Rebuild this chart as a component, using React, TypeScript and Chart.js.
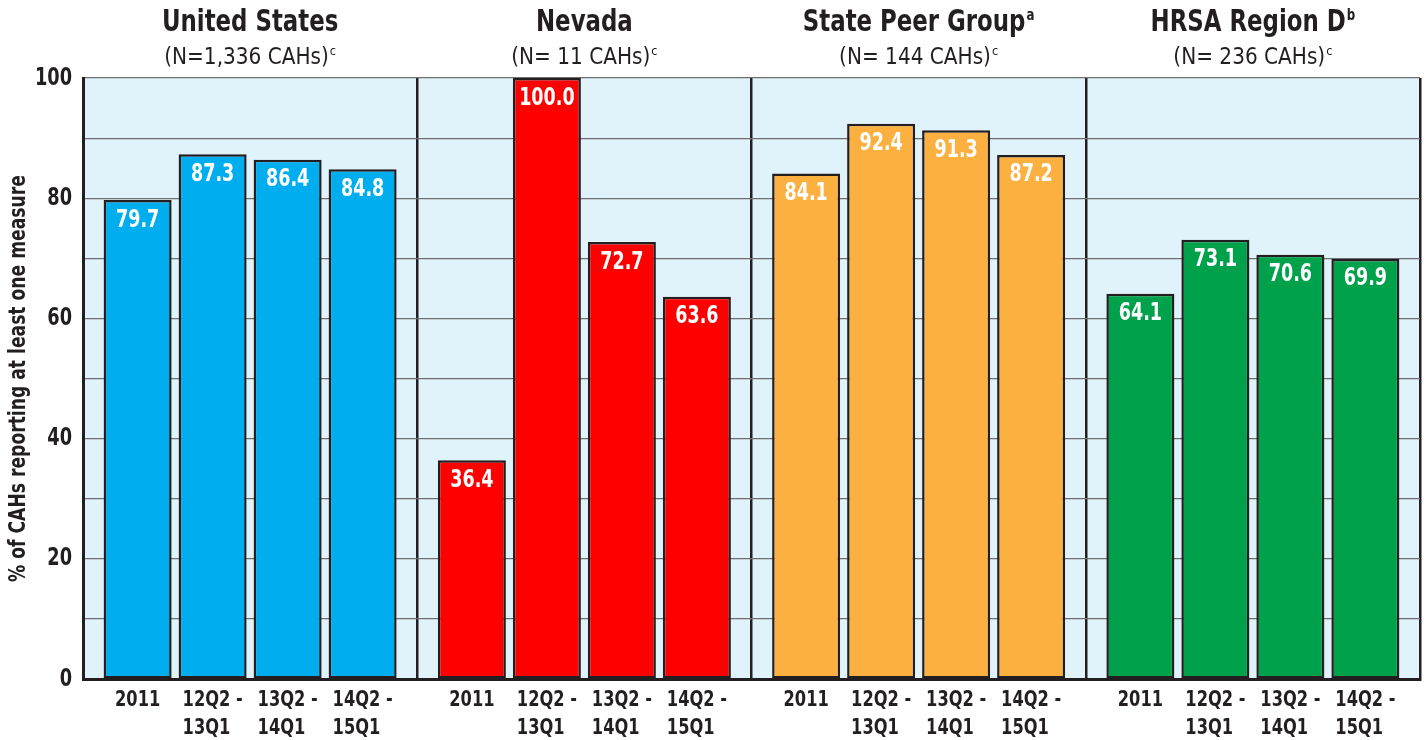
import React, { useEffect, useRef } from 'react';
import { Chart, registerables } from 'chart.js';

Chart.register(...registerables);

const groupTitles = ['United States', 'Nevada', 'State Peer Group', 'HRSA Region D'];
const groupTitleSup = ['', '', 'a', 'b'];
const groupSubtitles = ['(N=1,336 CAHs)', '(N= 11 CAHs)', '(N= 144 CAHs)', '(N= 236 CAHs)'];
const subtitleSup = 'c';
const periodLabels = [['2011'], ['12Q2 -', '13Q1'], ['13Q2 -', '14Q1'], ['14Q2 -', '15Q1']];
const usValues = [79.7, 87.3, 86.4, 84.8];
const nevadaValues = [36.4, 100.0, 72.7, 63.6];
const peerValues = [84.1, 92.4, 91.3, 87.2];
const regionDValues = [64.1, 73.1, 70.6, 69.9];
const groupColors = ['#00aeef', '#ff0000', '#fbb040', '#00a14b'];
const yTicks = [0, 20, 40, 60, 80, 100];
const yTitle = '% of CAHs reporting at least one measure';

const FONT = '"DejaVu Sans Condensed", "Liberation Sans Narrow", sans-serif';
const INK = '#231f20';

const groupValues = [usValues, nevadaValues, peerValues, regionDValues];

function textW(ctx: CanvasRenderingContext2D, text: string, font: string, sx: number) {
  ctx.font = font;
  return ctx.measureText(text).width * sx;
}

function drawText(
  ctx: CanvasRenderingContext2D,
  text: string,
  x: number,
  y: number,
  font: string,
  sx: number,
  align: CanvasTextAlign,
  color: string,
  rotate = 0
) {
  ctx.save();
  ctx.font = font;
  ctx.fillStyle = color;
  ctx.textAlign = align;
  ctx.textBaseline = 'middle';
  ctx.translate(x, y);
  if (rotate) ctx.rotate(rotate);
  ctx.scale(sx, 1);
  ctx.fillText(text, 0, 0);
  ctx.restore();
}

const labelsPlugin = {
  id: 'customLabels',
  beforeDraw(chart: any) {
    const { ctx, chartArea } = chart;
    ctx.save();
    ctx.fillStyle = '#e1f3fa';
    ctx.fillRect(chartArea.left, chartArea.top, chartArea.right - chartArea.left, chartArea.bottom - chartArea.top);
    ctx.restore();
  },
  afterDraw(chart: any) {
    const { ctx, chartArea } = chart;
    const xScale = chart.scales.x;
    const yScale = chart.scales.y;

    // y tick labels
    const tickFont = `bold 25px ${FONT}`;
    yTicks.forEach((v) => {
      drawText(ctx, String(v), chartArea.left - 11, yScale.getPixelForValue(v), tickFont, 0.79, 'right', INK);
    });

    // y title
    drawText(ctx, yTitle, 19, (chartArea.top + chartArea.bottom) / 2, `bold 23px ${FONT}`, 0.83, 'center', INK, -Math.PI / 2);

    // value labels and period labels
    chart.data.datasets.forEach((ds: any, di: number) => {
      const meta = chart.getDatasetMeta(di);
      meta.data.forEach((bar: any, gi: number) => {
        const v = ds.data[gi];
        drawText(ctx, v.toFixed(1), bar.x, bar.y + 20, `bold 25px ${FONT}`, 0.78, 'center', '#ffffff');
        const lines = periodLabels[di];
        const pf = `bold 22px ${FONT}`;
        const maxW = Math.max(...lines.map((l) => textW(ctx, l, pf, 0.82)));
        const left = bar.x - maxW / 2;
        lines.forEach((l, li) => {
          drawText(ctx, l, left, chartArea.bottom + 21 + li * 28, pf, 0.82, 'left', INK);
        });
      });
    });

    // group titles
    groupTitles.forEach((t, gi) => {
      const cx = xScale.getPixelForValue(gi);
      const tf = `bold 31px ${FONT}`;
      const sf = `bold 16px ${FONT}`;
      const tw = textW(ctx, t, tf, 0.82);
      const sw = groupTitleSup[gi] ? textW(ctx, groupTitleSup[gi], sf, 0.82) + 1 : 0;
      const startX = cx - (tw + sw) / 2;
      drawText(ctx, t, startX, 23, tf, 0.82, 'left', INK);
      if (groupTitleSup[gi]) drawText(ctx, groupTitleSup[gi], startX + tw + 1, 16, sf, 0.82, 'left', INK);

      const st = groupSubtitles[gi];
      const stf = `23px ${FONT}`;
      const ssf = `13px ${FONT}`;
      const stw = textW(ctx, st, stf, 0.97);
      const ssw = textW(ctx, subtitleSup, ssf, 0.97) + 1;
      const sx = cx - (stw + ssw) / 2;
      drawText(ctx, st, sx, 58, stf, 0.97, 'left', INK);
      drawText(ctx, subtitleSup, sx + stw + 1, 52, ssf, 0.97, 'left', INK);
    });
  },
};

export default function App() {
  const canvasRef = useRef<HTMLCanvasElement | null>(null);

  useEffect(() => {
    if (!canvasRef.current) return;
    const datasets = periodLabels.map((p, pi) => ({
      label: p.join(' '),
      data: groupValues.map((g) => g[pi]),
      backgroundColor: groupColors,
      borderColor: INK,
      borderWidth: 2.5,
      borderSkipped: false,
      categoryPercentage: 0.8975,
      barPercentage: 0.907,
    }));
    const chart = new Chart(canvasRef.current, {
      type: 'bar',
      data: { labels: groupTitles, datasets },
      options: {
        animation: false,
        responsive: false,
        layout: { padding: { left: 0, right: 6, top: 78, bottom: 61 } },
        plugins: { legend: { display: false }, tooltip: { enabled: false } },
        scales: {
          x: {
            type: 'category',
            offset: true,
            grid: { offset: true, color: INK, lineWidth: 2.5, drawTicks: false },
            ticks: { display: false },
            border: { color: INK, width: 3 },
          },
          y: {
            min: 0,
            max: 100,
            afterFit: (s: any) => {
              s.width = 83;
            },
            afterBuildTicks: (s: any) => {
              const t: any[] = [];
              for (let v = 0; v <= 100; v += 10) t.push({ value: v });
              s.ticks = t;
            },
            ticks: { display: false },
            grid: { color: '#6d6e71', lineWidth: 1.2, drawTicks: false },
            border: { color: INK, width: 3 },
          },
        },
      },
      plugins: [labelsPlugin],
    });
    return () => chart.destroy();
  }, []);

  return (
    <canvas
      ref={canvasRef}
      width={1426}
      height={740}
      style={{ position: 'fixed', left: 0, top: 0, width: 1426, height: 740 }}
    />
  );
}
